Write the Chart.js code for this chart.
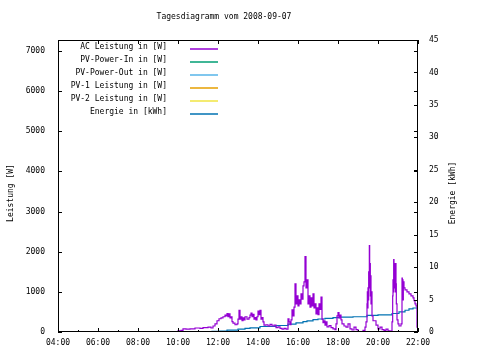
<!DOCTYPE html>
<html>
<head>
<meta charset="utf-8">
<script src="https://cdn.jsdelivr.net/npm/chart.js@4.4.1/dist/chart.umd.min.js"></script>
<style>
  html, body { margin: 0; padding: 0; background: #fff; }
  #wrap { width: 480px; height: 360px; }
</style>
</head>
<body>
<div id="wrap"><canvas id="dayChart" width="480" height="360"></canvas></div>
<script>
// ------------------------------
// Data
// ------------------------------
const chartTitle = 'Tagesdiagramm vom 2008-09-07';
const seriesNames = ['AC Leistung in [W]', 'PV-Power-In in [W]', 'PV-Power-Out in [W]',
                     'PV-1 Leistung in [W]', 'PV-2 Leistung in [W]', 'Energie in [kWh]'];
const seriesColors = ['#9400d3', '#009e73', '#56b4e9', '#e69f00', '#f0e442', '#0072b2'];

const xTickHours = [4, 6, 8, 10, 12, 14, 16, 18, 20, 22];
const powerTicks = [0, 1000, 2000, 3000, 4000, 5000, 6000, 7000];
const energyTicks = [0, 5, 10, 15, 20, 25, 30, 35, 40, 45];

// AC power samples (time, W)
const acTimes = [
  '09:57','10:00','10:09','10:15','10:24','10:36','10:51','11:06','11:15','11:30',
  '11:39','11:45','11:51','11:57','12:03','12:09','12:15','12:21','12:24','12:27',
  '12:30','12:33','12:36','12:39','12:42','12:45','12:51','12:57','13:00','13:03',
  '13:06','13:09','13:12','13:15','13:18','13:21','13:27','13:33','13:36','13:39',
  '13:42','13:45','13:48','13:51','13:54','13:57','14:00','14:03','14:06','14:09',
  '14:12','14:15','14:18','14:24','14:30','14:36','14:42','14:48','14:54','15:00',
  '15:06','15:12','15:18','15:24','15:30','15:33','15:36','15:39','15:42','15:45',
  '15:48','15:51','15:54','15:57','16:00','16:03','16:06','16:09','16:12','16:15',
  '16:18','16:21','16:24','16:27','16:30','16:33','16:36','16:39','16:42','16:45',
  '16:48','16:51','16:54','16:57','17:00','17:03','17:06','17:09','17:12','17:15',
  '17:18','17:21','17:24','17:27','17:33','17:39','17:45','17:51','17:54','17:57',
  '18:00','18:03','18:06','18:09','18:12','18:18','18:24','18:30','18:36','18:42',
  '18:48','18:54','19:00','19:09','19:15','19:21','19:24','19:27','19:28','19:29',
  '19:30','19:31','19:32','19:33','19:34','19:35','19:36','19:37','19:38','19:39',
  '19:40','19:42','19:45','19:54','20:00','20:06','20:12','20:18','20:24','20:30',
  '20:36','20:39','20:42','20:44','20:45','20:46','20:47','20:48','20:49','20:50',
  '20:51','20:52','20:53','20:54','20:55','20:57','21:00','21:03','21:09','21:12',
  '21:13','21:14','21:15','21:16','21:18','21:21','21:27','21:33','21:39','21:45',
  '21:48','21:51','21:54','21:57','22:00'
];
const acPower = [
  0, 30, 40, 80, 70, 80, 100, 90, 110, 120,
  100, 150, 200, 280, 330, 350, 380, 420, 400, 460,
  380, 450, 350, 380, 260, 220, 180, 200, 320, 540,
  320, 380, 280, 350, 300, 380, 320, 360, 420, 470,
  380, 440, 320, 360, 300, 380, 520, 430, 540, 320,
  360, 250, 170, 180, 150, 190, 150, 170, 110, 130,
  90, 70, 90, 70, 330, 250, 180, 300, 550, 400,
  620, 1200, 700, 900, 650, 800, 700, 950, 820, 1150,
  1250, 1880, 1100, 1300, 700, 900, 620, 850, 650, 950,
  600, 700, 450, 600, 430, 700, 560, 870, 320, 230,
  280, 170, 250, 130, 160, 110, 80, 60, 200, 400,
  480, 350, 420, 300, 200, 150, 120, 200, 80, 50,
  120, 60, 10, 0, 40, 120, 250, 700, 1000, 600,
  1100, 800, 1500, 1100, 2150, 1300, 1700, 900, 1400, 700,
  1000, 400, 280, 170, 80, 120, 60, 40, 70, 30,
  20, 0, 250, 900, 1300, 1000, 1800, 1400, 1700, 1100,
  1500, 1000, 1700, 1200, 700, 300, 200, 150, 200, 1340,
  900, 1300, 800, 1250, 1100, 1050, 1000, 950, 900, 850,
  780, 700, 650, 120, 60
];

// Daily energy (time, kWh)
const energyTimes = [
  '11:06','11:42','12:06','12:27','13:00','13:21','13:36','14:06','14:54','15:30',
  '15:54','16:15','16:27','16:45','17:00','17:21','17:45','18:06','18:45','19:27',
  '20:00','20:42','21:03','21:21','21:33','21:45','22:00'
];
const energyKwh = [
  0, 0.1, 0.15, 0.3, 0.45, 0.55, 0.65, 0.85, 1.0, 1.2,
  1.4, 1.6, 1.7, 1.9, 2.0, 2.1, 2.2, 2.3, 2.35, 2.55,
  2.65, 2.85, 3.1, 3.35, 3.55, 3.7, 3.7
];

// ------------------------------
// Helpers
// ------------------------------
function toHours(s) {
    const [h, m] = s.split(':').map(Number);
    return h + m / 60;
}
function pad2(n) { return String(n).padStart(2, '0'); }

const FONT = '"DejaVu Sans Mono", "Liberation Mono", monospace';
const tickFont = { family: FONT, size: 8 };

const acPoints = acTimes.map((t, i) => ({ x: toHours(t), y: acPower[i] }));
const energyPoints = energyTimes.map((t, i) => ({ x: toHours(t), y: energyKwh[i] }));

const datasets = seriesNames.map((name, i) => ({
    label: name,
    data: i === 0 ? acPoints : (i === 5 ? energyPoints : []),
    borderColor: seriesColors[i],
    backgroundColor: seriesColors[i],
    borderWidth: 1.2,
    pointRadius: 0,
    stepped: true,
    yAxisID: i === 5 ? 'y2' : 'y'
}));

// ------------------------------
// Frame, inward ticks, legend, titles (gnuplot look)
// ------------------------------
const gnuplotFrame = {
    id: 'gnuplotFrame',
    afterDatasetsDraw(chart) {
        const ctx = chart.ctx;
        const a = chart.chartArea;
        const sx = chart.scales.x, sy = chart.scales.y, sy2 = chart.scales.y2;
        ctx.save();
        ctx.strokeStyle = '#000';
        ctx.lineWidth = 1;
        ctx.strokeRect(a.left + 0.5, a.top + 0.5, a.right - a.left - 1, a.bottom - a.top - 1);

        ctx.beginPath();
        for (let h = 4; h <= 22; h++) {
            const x = Math.round(sx.getPixelForValue(h)) + 0.5;
            const len = h % 2 === 0 ? 4 : 2;
            ctx.moveTo(x, a.bottom); ctx.lineTo(x, a.bottom - len);
            if (h % 2 === 0) { ctx.moveTo(x, a.top); ctx.lineTo(x, a.top + 4); }
        }
        powerTicks.forEach(v => {
            const y = Math.round(sy.getPixelForValue(v)) + 0.5;
            ctx.moveTo(a.left, y); ctx.lineTo(a.left + 4, y);
            ctx.moveTo(a.right, y); ctx.lineTo(a.right - 4, y);
        });
        energyTicks.forEach(v => {
            const y = Math.round(sy2.getPixelForValue(v)) + 0.5;
            ctx.moveTo(a.right, y); ctx.lineTo(a.right - 4, y);
        });
        ctx.stroke();

        // legend inside the plot, text right aligned, sample on the right
        ctx.font = '8px ' + FONT;
        ctx.fillStyle = '#000';
        ctx.textAlign = 'right';
        ctx.textBaseline = 'middle';
        chart.data.datasets.forEach((ds, i) => {
            const y = 47 + i * 13;
            ctx.fillText(ds.label, 167, y);
            ctx.strokeStyle = ds.borderColor;
            ctx.lineWidth = 1.5;
            ctx.beginPath();
            ctx.moveTo(190, y + 2); ctx.lineTo(218, y + 2);
            ctx.stroke();
        });

        // chart title and axis titles
        ctx.fillStyle = '#000';
        ctx.textAlign = 'center';
        ctx.fillText(chartTitle, 224, 17);
        ctx.translate(11, 193);
        ctx.rotate(-Math.PI / 2);
        ctx.fillText('Leistung [W]', 0, 0);
        ctx.rotate(Math.PI / 2);
        ctx.translate(453 - 11, 0);
        ctx.rotate(-Math.PI / 2);
        ctx.fillText('Energie [kWh]', 0, 0);
        ctx.restore();
    }
};

new Chart(document.getElementById('dayChart').getContext('2d'), {
    type: 'line',
    data: { datasets },
    options: {
        responsive: false,
        animation: false,
        layout: { padding: { top: 40, left: 0, right: 0, bottom: 0 } },
        plugins: {
            legend: { display: false },
            title: { display: false },
            tooltip: { enabled: false }
        },
        scales: {
            x: {
                type: 'linear',
                min: 4,
                max: 22,
                afterBuildTicks: s => { s.ticks = xTickHours.map(v => ({ value: v })); },
                afterFit: s => { s.height = 28; },
                grid: { display: false, drawTicks: false },
                border: { display: false },
                ticks: {
                    font: tickFont, color: '#000', padding: 6, maxRotation: 0, autoSkip: false,
                    callback: v => pad2(v) + ':00'
                }
            },
            y: {
                position: 'left',
                min: 0,
                max: 7270,
                afterBuildTicks: s => { s.ticks = powerTicks.map(v => ({ value: v })); },
                afterFit: s => { s.width = 58; },
                grid: { display: false, drawTicks: false },
                border: { display: false },
                ticks: { font: tickFont, color: '#000', padding: 13, callback: v => String(v) }
            },
            y2: {
                position: 'right',
                min: 0,
                max: 45,
                afterBuildTicks: s => { s.ticks = energyTicks.map(v => ({ value: v })); },
                afterFit: s => { s.width = 62; },
                grid: { display: false, drawTicks: false },
                border: { display: false },
                ticks: { font: tickFont, color: '#000', padding: 11, callback: v => String(v) }
            }
        }
    },
    plugins: [gnuplotFrame]
});
</script>
</body>
</html>
